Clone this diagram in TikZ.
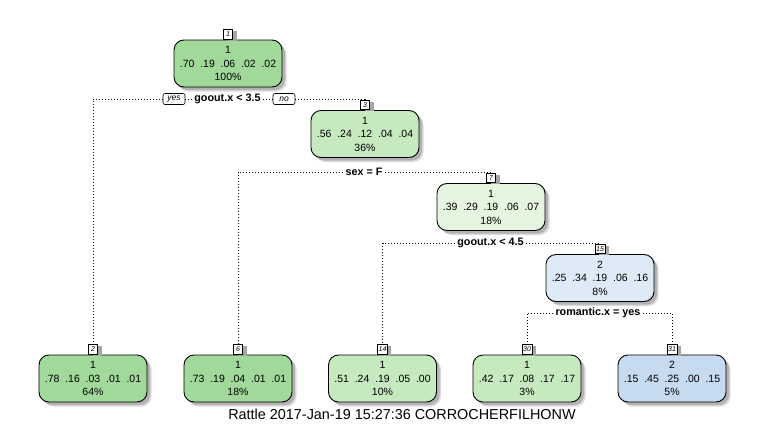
\documentclass[tikz,border=0pt]{standalone}
\usepackage{fontspec}
\setmainfont{Liberation Sans}
\usetikzlibrary{shadows}
\definecolor{gA}{RGB}{161,217,155}
\definecolor{gB}{RGB}{199,233,192}
\definecolor{gC}{RGB}{229,245,224}
\definecolor{bA}{RGB}{222,235,247}
\definecolor{bB}{RGB}{198,219,239}
\tikzset{
  treebox/.style={draw=black, line width=0.9pt, rounded corners=10pt,
    minimum width=108pt, minimum height=47pt, align=center, inner sep=0pt,
    font=\fontsize{10.5}{13.5}\selectfont,
    drop shadow={shadow xshift=4.5pt, shadow yshift=-4.5pt, fill=black!14, opacity=1},
    drop shadow={shadow xshift=3pt, shadow yshift=-3pt, fill=black!30, opacity=1}},
  tagbox/.style={draw=black, line width=0.7pt, fill=white, inner sep=1pt,
    minimum width=9pt, minimum height=9.5pt, anchor=south,
    font=\fontsize{7}{7}\selectfont\itshape,
    drop shadow={shadow xshift=4pt, shadow yshift=-1.5pt, fill=black!35, opacity=1}},
  splitlab/.style={inner sep=2.5pt, font=\fontsize{10.8}{12}\selectfont\bfseries},
  yesno/.style={draw=black, line width=0.6pt, rounded corners=2pt, fill=white,
    minimum width=22pt, minimum height=11pt, inner sep=1pt,
    font=\fontsize{8.5}{9}\selectfont\itshape},
  conn/.style={draw=black, line width=0.8pt, dash pattern=on 0.8pt off 2.2pt},
  caption/.style={font=\fontsize{14.4}{16}\selectfont}
}
\begin{document}
\begin{tikzpicture}[x=1pt,y=-1pt]
\path[fill=white] (0,0) rectangle (765,431);
\useasboundingbox (0,0) rectangle (765,431);

% boxes
\node[treebox, fill=gA] (n1) at (228,63.5) {1\\.70~~.19~~.06~~.02~~.02\\100\%};
\node[treebox, fill=gB] (n3) at (365,134) {1\\.56~~.24~~.12~~.04~~.04\\36\%};
\node[treebox, fill=gC] (n7) at (491,207) {1\\.39~~.29~~.19~~.06~~.07\\18\%};
\node[treebox, fill=bA] (n15) at (600,278) {2\\.25~~.34~~.19~~.06~~.16\\8\%};
\node[treebox, fill=gA] (n2) at (93,378.5) {1\\.78~~.16~~.03~~.01~~.01\\64\%};
\node[treebox, fill=gA] (n6) at (238,378.5) {1\\.73~~.19~~.04~~.01~~.01\\18\%};
\node[treebox, fill=gB] (n14) at (382.5,378.5) {1\\.51~~.24~~.19~~.05~~.00\\10\%};
\node[treebox, fill=gB] (n30) at (527,378.5) {1\\.42~~.17~~.08~~.17~~.17\\3\%};
\node[treebox, fill=bB] (n31) at (672,378.5) {2\\.15~~.45~~.25~~.00~~.15\\5\%};

% tags
\node[tagbox] (t1) at (n1.north) {1};
\node[tagbox] (t3) at (n3.north) {3};
\node[tagbox] (t7) at (n7.north) {7};
\node[tagbox] (t15) at (n15.north) {15};
\node[tagbox] (t2) at (n2.north) {2};
\node[tagbox] (t6) at (n6.north) {6};
\node[tagbox] (t14) at (n14.north) {14};
\node[tagbox] (t30) at (n30.north) {30};
\node[tagbox] (t31) at (n31.north) {31};

% split labels
\node[splitlab] (s1) at (227.5,99) {goout.x < 3.5};
\node[yesno] (yes) at (174,99) {yes};
\node[yesno] (no) at (284,99) {no};
\node[splitlab] (s2) at (364,172) {sex = F};
\node[splitlab] (s3) at (490.5,243) {goout.x < 4.5};
\node[splitlab] (s4) at (598,313) {romantic.x = yes};

% connectors
\draw[conn] (yes.west) -| (t2.north);
\draw[conn] (yes.east) -- (s1.west);
\draw[conn] (s1.east) -- (no.west);
\draw[conn] (no.east) -| (t3.north);
\draw[conn] (s2.west) -| (t6.north);
\draw[conn] (s2.east) -| (t7.north);
\draw[conn] (s3.west) -| (t14.north);
\draw[conn] (s3.east) -| (t15.north);
\draw[conn] (s4.west) -| (t30.north);
\draw[conn] (s4.east) -| (t31.north);

\node[caption] (cap) at (402,414) {Rattle 2017-Jan-19 15:27:36 CORROCHERFILHONW};
\end{tikzpicture}
\end{document}
